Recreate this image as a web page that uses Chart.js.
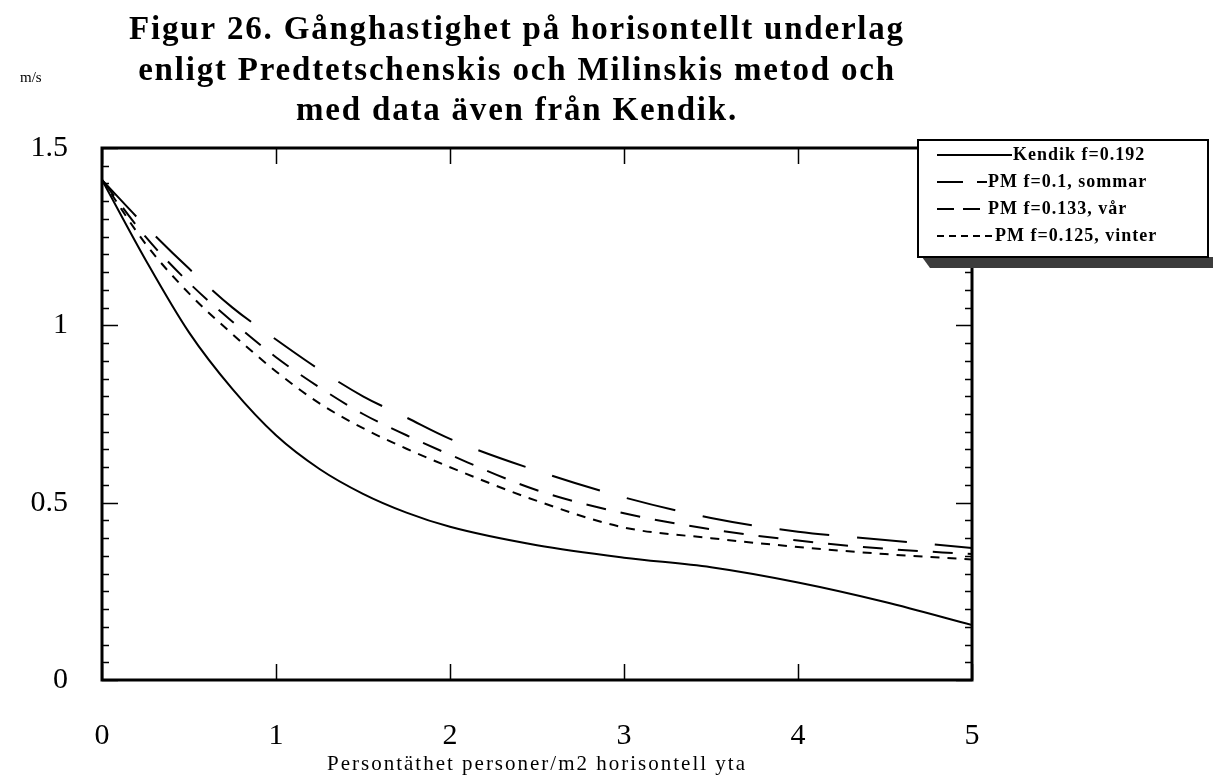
<!DOCTYPE html>
<html>
<head>
<meta charset="utf-8">
<script src="https://cdn.jsdelivr.net/npm/chart.js@4/dist/chart.umd.min.js"></script>
<style>
html,body{margin:0;padding:0;background:#fff;}
#c{display:block;}
</style>
</head>
<body>
<canvas id="c" width="1213" height="778"></canvas>
<script>
// ---- data ----
const titleLines = ["Figur 26. Gånghastighet på horisontellt underlag",
                    "enligt Predtetschenskis och Milinskis metod och",
                    "med data även från Kendik."];
const yUnit = "m/s";
const xTitle = "Persontäthet personer/m2 horisontell yta";
const xValues = [0, 0.25, 0.5, 0.75, 1, 1.25, 1.5, 1.75, 2, 2.5, 3, 3.5, 4, 4.5, 5];
const kendik  = [1.41, 1.185, 0.98, 0.82, 0.69, 0.595, 0.525, 0.472, 0.432, 0.38, 0.345, 0.318, 0.275, 0.22, 0.155];
const sommar  = [1.41, 1.28, 1.16, 1.05, 0.96, 0.875, 0.80, 0.74, 0.68, 0.59, 0.515, 0.457, 0.418, 0.395, 0.372];
const var_    = [1.41, 1.25, 1.12, 1.01, 0.91, 0.825, 0.75, 0.69, 0.635, 0.535, 0.47, 0.425, 0.393, 0.37, 0.355];
const vinter  = [1.41, 1.23, 1.09, 0.975, 0.87, 0.78, 0.71, 0.652, 0.60, 0.505, 0.43, 0.40, 0.375, 0.355, 0.34];
const seriesLabels = ["Kendik f=0.192", "PM f=0.1, sommar", "PM f=0.133, vår", "PM f=0.125, vinter"];
const xTicks = [0, 1, 2, 3, 4, 5];
const yTicks = [0, 0.5, 1, 1.5];

const pts = arr => arr.map((v, i) => ({x: xValues[i], y: v}));

const SERIF = '"Liberation Serif", "DejaVu Serif", serif';

const dashes = [[], [50, 28], [20, 15], [9, 8]];
const legendDashes = [[], [26, 14, 10, 100], [17, 9], [7, 5]];
const legendTextX = [1013, 988, 988, 995];

const frameAndTicks = {
  id: 'frameAndTicks',
  afterDatasetsDraw(chart) {
    const {ctx, chartArea: a, scales: {x, y}} = chart;
    ctx.save();
    ctx.strokeStyle = '#000';
    ctx.lineWidth = 1.5;
    for (let k = 0; k <= 30; k++) {
      const v = k * 0.05;
      const py = Math.round(y.getPixelForValue(v)) + 0.5;
      const major = k % 10 === 0;
      const len = major ? 16 : 7;
      ctx.beginPath();
      ctx.moveTo(a.left, py); ctx.lineTo(a.left + len, py);
      ctx.moveTo(a.right, py); ctx.lineTo(a.right - len, py);
      ctx.stroke();
    }
    xTicks.forEach(v => {
      const px = Math.round(x.getPixelForValue(v)) + 0.5;
      ctx.beginPath();
      ctx.moveTo(px, a.bottom); ctx.lineTo(px, a.bottom - 16);
      ctx.moveTo(px, a.top); ctx.lineTo(px, a.top + 16);
      ctx.stroke();
    });
    ctx.lineWidth = 3;
    ctx.strokeRect(a.left, a.top, a.right - a.left, a.bottom - a.top);
    ctx.restore();
  },
  afterDraw(chart) {
    const {ctx, chartArea: a} = chart;
    ctx.save();
    ctx.fillStyle = '#000';
    // title
    ctx.font = 'bold 33px ' + SERIF;
    ctx.letterSpacing = '1.8px';
    ctx.textAlign = 'center';
    ctx.textBaseline = 'middle';
    const ty = [30, 71, 111];
    titleLines.forEach((t, i) => ctx.fillText(t, 517, ty[i]));
    // x axis title
    ctx.font = '21px ' + SERIF;
    ctx.letterSpacing = '2px';
    ctx.fillText(xTitle, (a.left + a.right) / 2, 764);
    // unit
    ctx.letterSpacing = '0px';
    ctx.font = '15px ' + SERIF;
    ctx.textAlign = 'left';
    ctx.fillText(yUnit, 20, 78);
    // legend box
    const L = 918, T = 140, R = 1208, B = 257;
    ctx.fillStyle = '#3c3c3c';
    ctx.beginPath();
    ctx.moveTo(L + 4, B); ctx.lineTo(1213, B); ctx.lineTo(1213, B + 11); ctx.lineTo(L + 12, B + 11); ctx.closePath();
    ctx.fill();
    ctx.fillStyle = '#fff';
    ctx.fillRect(L, T, R - L, B - T);
    ctx.strokeStyle = '#000';
    ctx.lineWidth = 2;
    ctx.strokeRect(L, T, R - L, B - T);
    ctx.font = 'bold 18px ' + SERIF;
    ctx.letterSpacing = '1px';
    ctx.textBaseline = 'middle';
    ctx.fillStyle = '#000';
    chart.data.datasets.forEach((ds, i) => {
      const ly = 155 + i * 27;
      ctx.save();
      ctx.lineWidth = 2;
      ctx.setLineDash(legendDashes[i]);
      ctx.beginPath();
      ctx.moveTo(937, ly); ctx.lineTo(legendTextX[i] - 1, ly);
      ctx.stroke();
      ctx.restore();
      ctx.fillText(ds.label, legendTextX[i], ly);
    });
    ctx.restore();
  }
};

const mk = (label, data, i) => ({
  label, data: pts(data),
  borderColor: '#000', borderWidth: 2, borderDash: dashes[i],
  pointRadius: 0, fill: false, cubicInterpolationMode: 'monotone'
});

new Chart(document.getElementById('c'), {
  type: 'line',
  data: {
    datasets: [
      mk(seriesLabels[0], kendik, 0),
      mk(seriesLabels[1], sommar, 1),
      mk(seriesLabels[2], var_, 2),
      mk(seriesLabels[3], vinter, 3)
    ]
  },
  options: {
    responsive: false,
    animation: false,
    devicePixelRatio: 1,
    layout: {padding: {top: 148, right: 241, left: 0, bottom: 0}},
    plugins: {legend: {display: false}, tooltip: {enabled: false}, title: {display: false}},
    scales: {
      x: {
        type: 'linear', min: 0, max: 5,
        afterBuildTicks: s => { s.ticks = xTicks.map(v => ({value: v})); },
        afterFit: s => { s.height = 98; },
        grid: {display: false, drawTicks: false},
        border: {display: false},
        ticks: {padding: 38, color: '#000', font: {family: SERIF, size: 30}, maxRotation: 0,
                callback: v => String(v)},
        title: {display: false}
      },
      y: {
        type: 'linear', min: 0, max: 1.5,
        afterBuildTicks: s => { s.ticks = yTicks.map(v => ({value: v})); },
        afterFit: s => { s.width = 102; },
        grid: {display: false, drawTicks: false},
        border: {display: false},
        ticks: {padding: 34, color: '#000', font: {family: SERIF, size: 30},
                callback: v => String(v)}
      }
    }
  },
  plugins: [frameAndTicks]
});
</script>
</body>
</html>
